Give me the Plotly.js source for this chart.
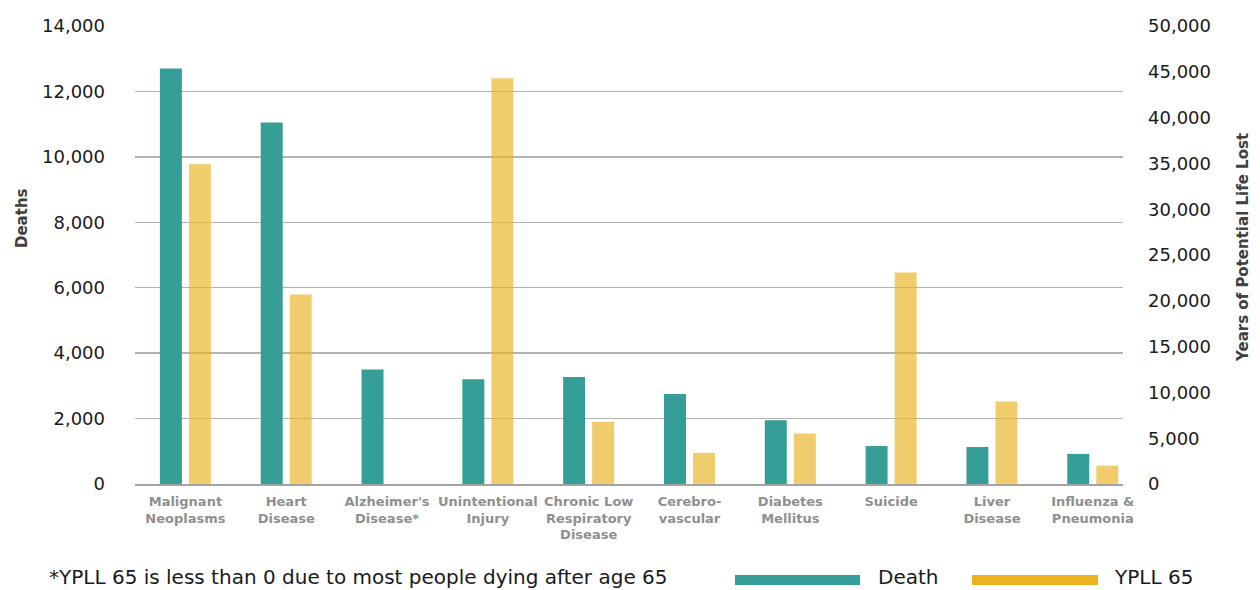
<!DOCTYPE html>
<html>
<head>
<meta charset="utf-8">
<script src="https://cdn.plot.ly/plotly-3.0.1.min.js"></script>
<style>
  html, body { margin: 0; padding: 0; background: #ffffff; }
  #chart { width: 1260px; height: 590px; }
</style>
</head>
<body>
<div id="chart"></div>
<script>
// ---- data ----
const categories = [
  "Malignant<br>Neoplasms",
  "Heart<br>Disease",
  "Alzheimer's<br>Disease*",
  "Unintentional<br>Injury",
  "Chronic Low<br>Respiratory<br>Disease",
  "Cerebro-<br>vascular",
  "Diabetes<br>Mellitus",
  "Suicide",
  "Liver<br>Disease",
  "Influenza &<br>Pneumonia"
];
const deaths = [12700, 11050, 3500, 3200, 3270, 2750, 1950, 1160, 1130, 920];
const ypll65 = [34900, 20700, 0, 44300, 6800, 3400, 5500, 23100, 9000, 2000];
const seriesNames = ["Death", "YPLL 65"];
const footnote = "*YPLL 65 is less than 0 due to most people dying after age 65";
const leftTitle = "Deaths";
const rightTitle = "Years of Potential Life Lost";

// ---- style ----
const TEAL = "#359E96";
const GOLD = "#EBB321";
const FONT = "'DejaVu Sans', 'Liberation Sans', sans-serif";
const BAR_W = 0.218;
const HALF_GAP = 0.035;

const traces = [
  {
    type: "bar",
    name: seriesNames[0],
    x: categories,
    y: deaths,
    yaxis: "y",
    marker: { color: TEAL },
    width: BAR_W,
    offset: -HALF_GAP - BAR_W,
    showlegend: false,
    hovertemplate: "%{x}<br>Deaths: %{y:,}<extra></extra>"
  },
  {
    type: "bar",
    name: seriesNames[1],
    x: categories,
    y: ypll65,
    yaxis: "y2",
    marker: { color: GOLD },
    opacity: 0.66,
    width: BAR_W,
    offset: HALF_GAP,
    showlegend: false,
    hovertemplate: "%{x}<br>YPLL 65: %{y:,}<extra></extra>"
  }
];

// legend placement helpers (paper coords)
const L = 135, R = 1123, T = 26, B = 484;
const px = v => (v - L) / (R - L);
const py = v => (B - v) / (B - T);

const layout = {
  width: 1260,
  height: 590,
  margin: { l: L, r: 1260 - R, t: T, b: 590 - B },
  paper_bgcolor: "#ffffff",
  plot_bgcolor: "#ffffff",
  font: { family: FONT, color: "#1a1a1a", size: 18 },
  showlegend: false,
  barmode: "overlay",
  xaxis: {
    type: "category",
    range: [-0.5, 9.3],
    showgrid: false,
    showline: true,
    linecolor: "#a3a3a3",
    linewidth: 2,
    ticks: "",
    tickangle: 0,
    tickfont: { family: FONT, size: 13, color: "#8f8f8f", weight: "bold" },
    ticklabelstandoff: 4,
    fixedrange: true
  },
  yaxis: {
    range: [0, 14000],
    dtick: 2000,
    tickformat: ",",
    showgrid: true,
    gridcolor: "#b3b3b3",
    gridwidth: 1.3,
    zeroline: false,
    showline: false,
    ticks: "",
    ticklabelstandoff: 29,
    tickfont: { family: FONT, size: 18, color: "#1a1a1a" },
    fixedrange: true
  },
  yaxis2: {
    overlaying: "y",
    side: "right",
    range: [0, 50000],
    dtick: 5000,
    tickformat: ",",
    showgrid: false,
    zeroline: false,
    showline: false,
    ticks: "",
    ticklabelstandoff: 24,
    tickfont: { family: FONT, size: 18, color: "#1a1a1a" },
    fixedrange: true
  },
  annotations: [
    {
      text: leftTitle, xref: "paper", yref: "paper",
      x: px(22), y: py(218), textangle: -90, showarrow: false,
      xanchor: "center", yanchor: "middle",
      font: { family: FONT, size: 15, color: "#404040", weight: "bold" }
    },
    {
      text: rightTitle, xref: "paper", yref: "paper",
      x: px(1243), y: py(248), textangle: -90, showarrow: false,
      xanchor: "center", yanchor: "middle",
      font: { family: FONT, size: 15, color: "#404040", weight: "bold" }
    },
    {
      text: footnote, xref: "paper", yref: "paper",
      x: px(47), y: py(577), showarrow: false,
      xanchor: "left", yanchor: "middle",
      font: { family: FONT, size: 20, color: "#1a1a1a" }
    },
    {
      text: seriesNames[0], xref: "paper", yref: "paper",
      x: px(876), y: py(577), showarrow: false,
      xanchor: "left", yanchor: "middle",
      font: { family: FONT, size: 20, color: "#1a1a1a" }
    },
    {
      text: seriesNames[1], xref: "paper", yref: "paper",
      x: px(1112), y: py(577), showarrow: false,
      xanchor: "left", yanchor: "middle",
      font: { family: FONT, size: 20, color: "#1a1a1a" }
    }
  ],
  shapes: [
    {
      type: "rect", xref: "paper", yref: "paper",
      x0: px(735), x1: px(860), y0: py(585), y1: py(575),
      fillcolor: TEAL, line: { width: 0 }
    },
    {
      type: "rect", xref: "paper", yref: "paper",
      x0: px(972), x1: px(1098), y0: py(585), y1: py(575),
      fillcolor: GOLD, line: { width: 0 }
    }
  ]
};

Plotly.newPlot("chart", traces, layout, { displayModeBar: false, staticPlot: true });
</script>
</body>
</html>
